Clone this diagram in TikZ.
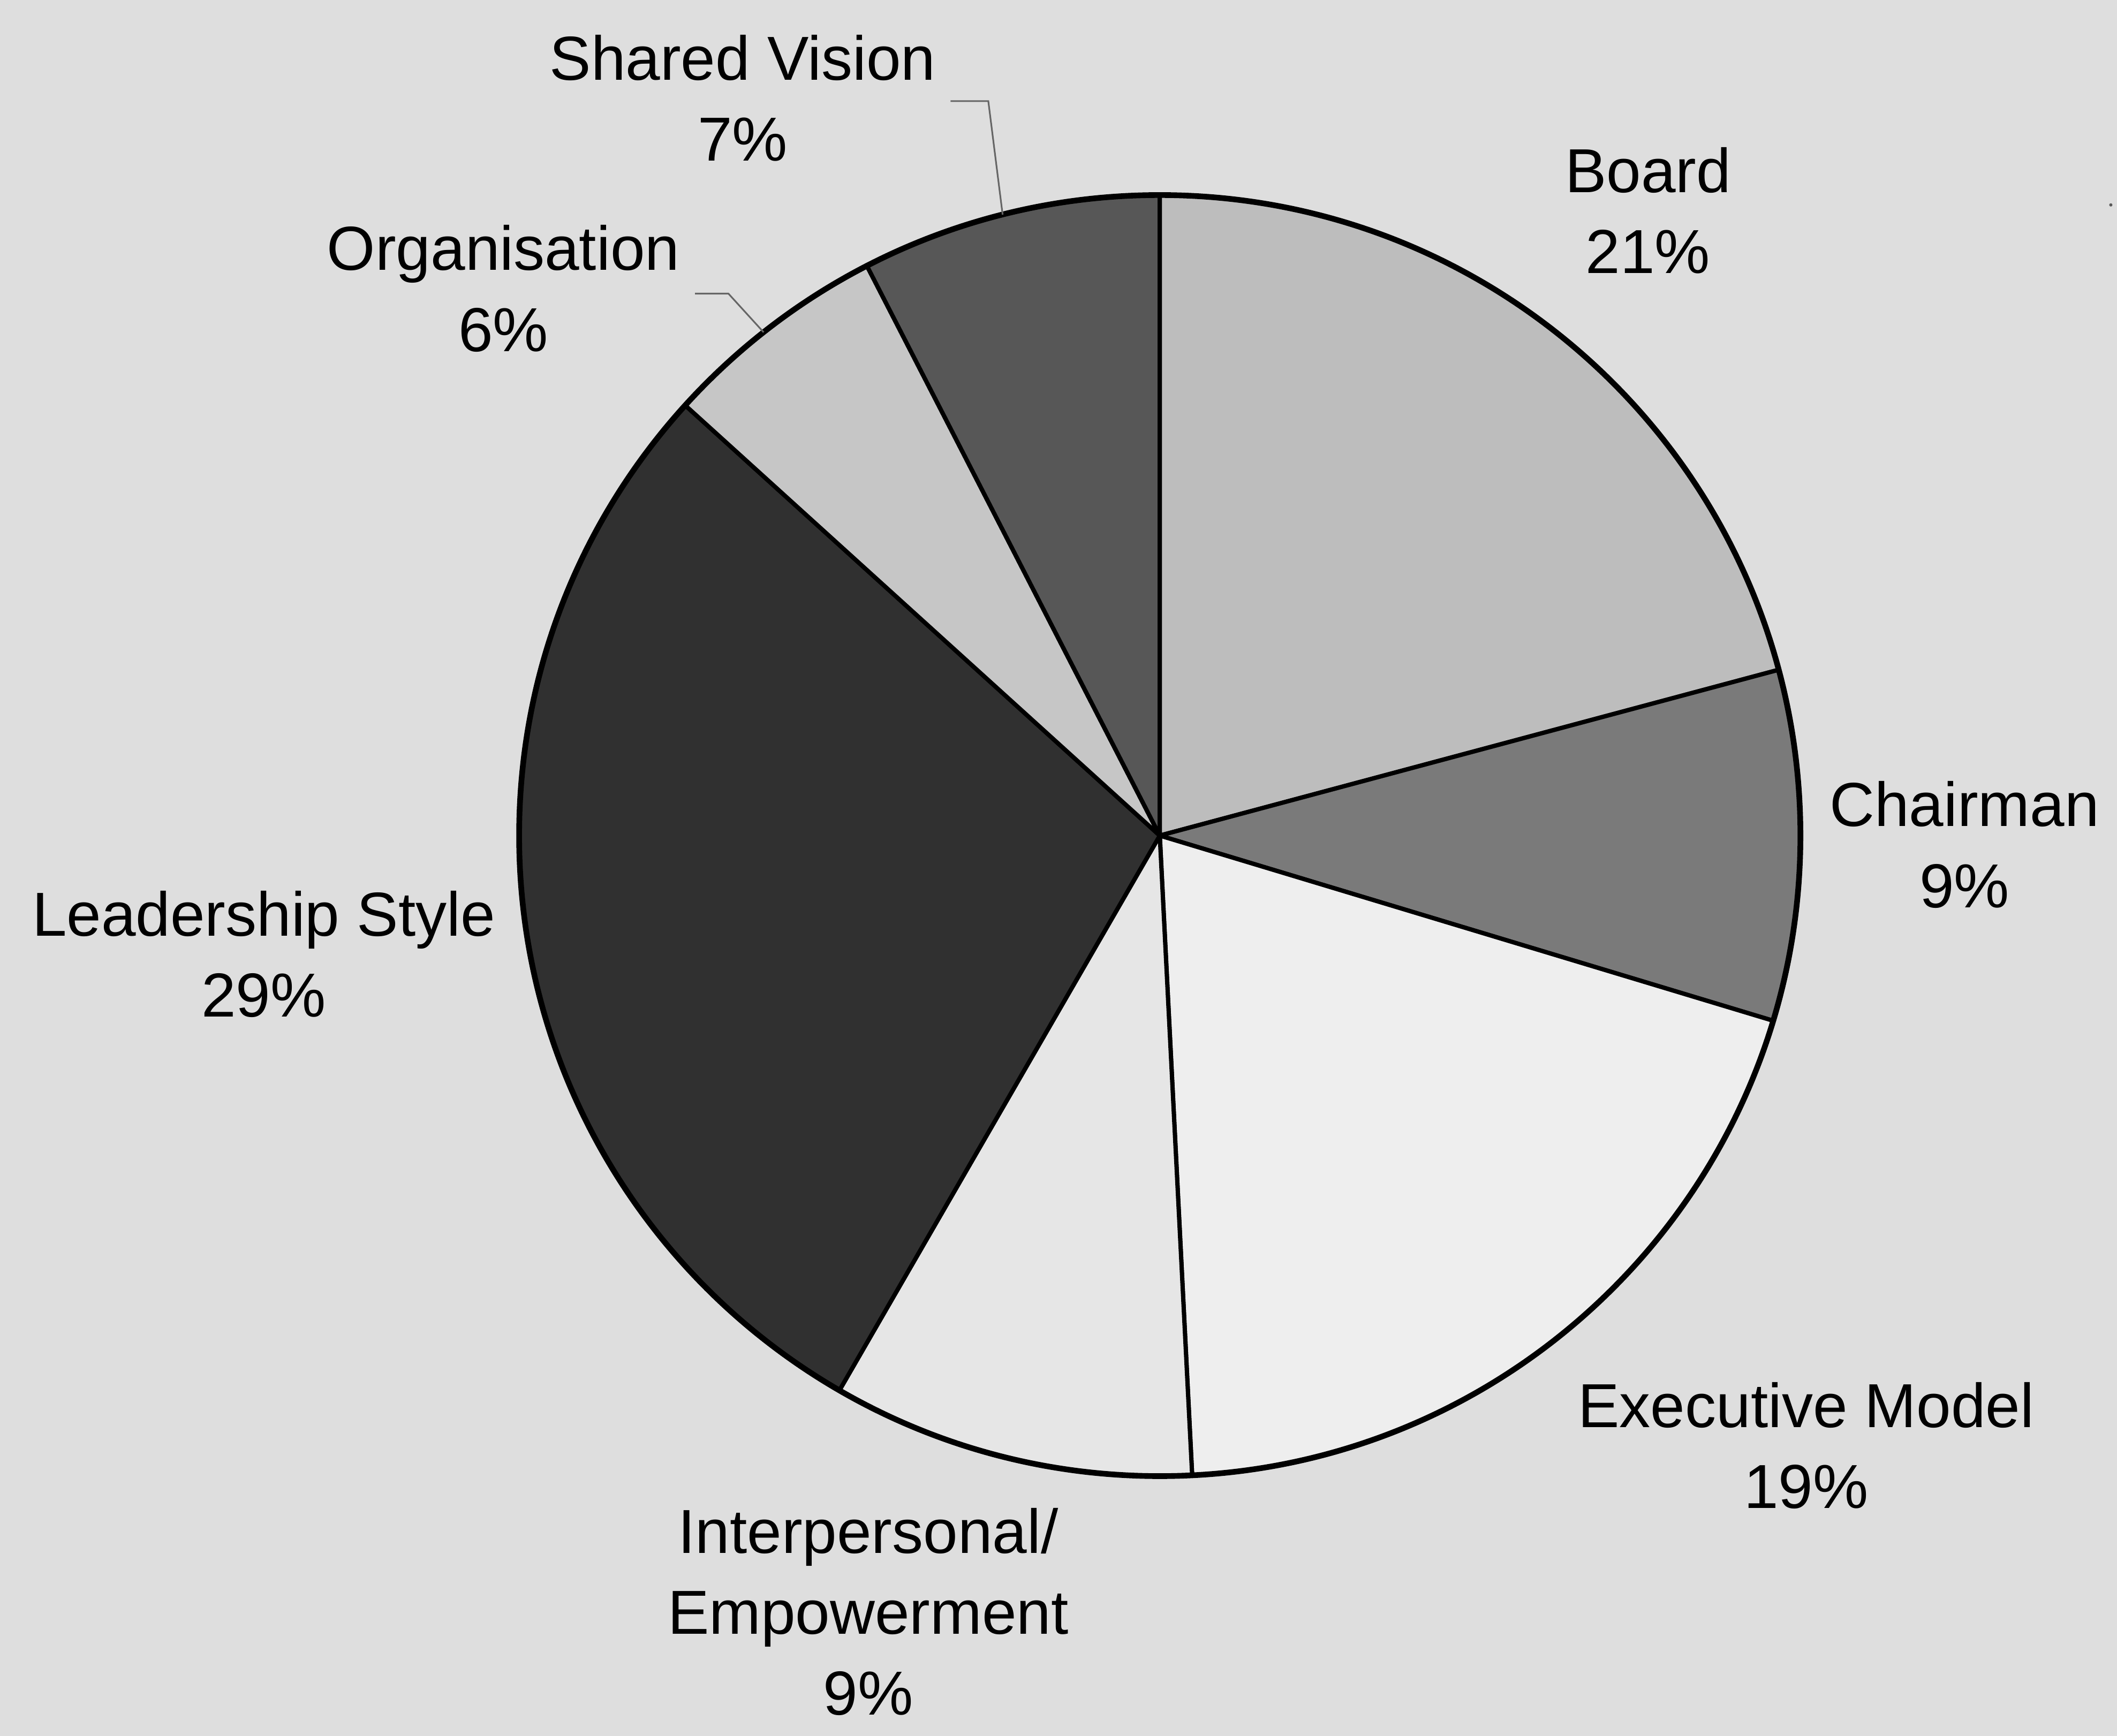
\documentclass[tikz,border=0pt]{standalone}
\usepackage{fontspec}
\setmainfont{Liberation Sans}
\definecolor{bg}{HTML}{DEDEDE}
\definecolor{cBoard}{HTML}{BDBDBD}
\definecolor{cChair}{HTML}{7A7A7A}
\definecolor{cExec}{HTML}{EEEEEE}
\definecolor{cInter}{HTML}{E6E6E6}
\definecolor{cLead}{HTML}{303030}
\definecolor{cOrg}{HTML}{C6C6C6}
\definecolor{cVision}{HTML}{575757}
\newcommand{\pierad}{4.745}
\begin{document}
\begin{tikzpicture}[
    wedge/.style  = {draw=black, line width=0.9pt, line join=round},
    txt/.style    = {align=center, inner sep=0pt, font=\fontsize{13.1}{17.07}\selectfont},
    leader/.style = {draw=gray!80!black, line width=0.35pt},
  ]
  % Hintergrund
  \fill[bg] (0,0) rectangle (15.68,12.86);
  \useasboundingbox (0,0) rectangle (15.68,12.86);

  \coordinate (M) at (8.59,6.67); % Mittelpunkt des Kuchens

  % Sektoren (im Uhrzeigersinn ab oben)
  \filldraw[wedge, fill=cBoard]  (M) -- ++(90:\pierad) arc (90:15:\pierad) -- cycle;
  \filldraw[wedge, fill=cChair]  (M) -- ++(15:\pierad) arc (15:-16.8:\pierad) -- cycle;
  \filldraw[wedge, fill=cExec]   (M) -- ++(-16.8:\pierad) arc (-16.8:-87.1:\pierad) -- cycle;
  \filldraw[wedge, fill=cInter]  (M) -- ++(-87.1:\pierad) arc (-87.1:-120:\pierad) -- cycle;
  \filldraw[wedge, fill=cLead]   (M) -- ++(-120:\pierad) arc (-120:-222.2:\pierad) -- cycle;
  \filldraw[wedge, fill=cOrg]    (M) -- ++(137.8:\pierad) arc (137.8:117.2:\pierad) -- cycle;
  \filldraw[wedge, fill=cVision] (M) -- ++(117.2:\pierad) arc (117.2:90:\pierad) -- cycle;
  \draw[line width=1.2pt] (M) circle (\pierad);

  % Beschriftungen
  \node[txt] (vision) at (5.50,12.132)  {Shared Vision\\7\%};
  \node[txt] (board)  at (12.206,11.30) {Board\\21\%};
  \node[txt] (chair)  at (14.55,6.602)  {Chairman\\9\%};
  \node[txt] (exec)   at (13.377,2.15)  {Executive Model\\19\%};
  \node[txt] (inter)  at (6.43,0.92)    {Interpersonal/\\Empowerment\\9\%};
  \node[txt] (lead)   at (1.953,5.792)  {Leadership Style\\29\%};
  \node[txt] (org)    at (3.728,10.723) {Organisation\\6\%};

  % Hinweislinien
  \coordinate (visionA) at (7.04,12.111);
  \path (M) ++(104.2:\pierad) coordinate (visionB);
  \draw[leader] (visionA) -- ++(0.28,0) -- (visionB);
  \coordinate (orgA) at (5.148,10.685);
  \path (M) ++(128.2:\pierad) coordinate (orgB);
  \draw[leader] (orgA) -- ++(0.247,0) -- (orgB);

  % Punkt rechts oben
  \fill[gray!70!black] (15.634,11.342) circle (0.012);
\end{tikzpicture}
\end{document}
